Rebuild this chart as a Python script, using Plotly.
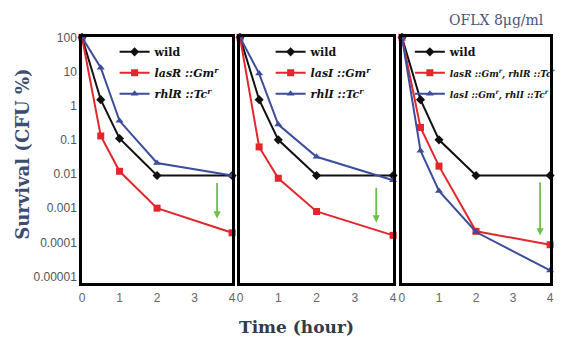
import math
import plotly.graph_objects as go

# ---------------- data ----------------
time_h = [0, 0.5, 1, 2, 4]

p1_wild = [100, 1.5, 0.11, 0.009, 0.009]
p1_lasR = [100, 0.13, 0.012, 0.001, 0.00019]
p1_rhlR = [100, 13, 0.36, 0.021, 0.009]

p2_wild = [100, 1.5, 0.1, 0.009, 0.009]
p2_lasI = [100, 0.062, 0.0075, 0.0008, 0.00016]
p2_rhlI = [100, 8.7, 0.28, 0.032, 0.0066]

p3_wild = [100, 1.5, 0.1, 0.009, 0.009]
p3_lasR_rhlR = [100, 0.23, 0.017, 0.00021, 0.000085]
p3_lasI_rhlI = [100, 0.048, 0.0032, 0.0002, 0.000015]

# green arrows: (time, start value, end value) per panel
arrow_t = [3.6, 3.56, 3.73]
arrow_from = [0.006, 0.0044, 0.0062]
arrow_to = [0.0005, 0.00038, 0.00016]

y_tickvals = [100, 10, 1, 0.1, 0.01, 0.001, 0.0001, 0.00001]
y_ticktext = ["100", "10", "1", "0.1", "0.01", "0.001", "0.0001", "0.00001"]
x_tickvals = [0, 1, 2, 3, 4]

names_p1 = ["wild", "<i>lasR ::Gm<sup>r</sup></i>", "<i>rhlR ::Tc<sup>r</sup></i>"]
names_p2 = ["wild", "<i>lasI ::Gm<sup>r</sup></i>", "<i>rhlI ::Tc<sup>r</sup></i>"]
names_p3 = ["wild",
            "<span style='font-size:9px'><i>lasR ::Gm<sup>r</sup>, rhlR ::Tc<sup>r</sup></i></span>",
            "<span style='font-size:9px'><i>lasI ::Gm<sup>r</sup>, rhlI ::Tc<sup>r</sup></i></span>"]

# ---------------- styles ----------------
BLACK = "#111111"
RED = "#e4262c"
BLUE = "#3b4d9c"
GREEN = "#6cc04a"
colors = [BLACK, RED, BLUE]
symbols = ["diamond", "square", "triangle-up"]

W, H = 562, 347
dom_x = [[80 / W, 232 / W], [240 / W, 395 / W], [404 / W, 554 / W]]
dom_y = [1 - 282 / H, 1 - 31 / H]

fig = go.Figure()

panels = [
    (names_p1, [p1_wild, p1_lasR, p1_rhlR], "legend"),
    (names_p2, [p2_wild, p2_lasI, p2_rhlI], "legend2"),
    (names_p3, [p3_wild, p3_lasR_rhlR, p3_lasI_rhlI], "legend3"),
]

for i, (names, series, leg) in enumerate(panels):
    xa = "x" if i == 0 else f"x{i+1}"
    ya = "y" if i == 0 else f"y{i+1}"
    for j, (nm, vals) in enumerate(zip(names, series)):
        fig.add_trace(go.Scatter(
            x=time_h, y=vals, name=nm, mode="lines+markers",
            line=dict(color=colors[j], width=2),
            marker=dict(color=colors[j], symbol=symbols[j], size=7),
            xaxis=xa, yaxis=ya, legend=leg, legendgroup=f"g{i}{j}",
            cliponaxis=False,
        ))
    # green arrow
    fig.add_annotation(
        x=arrow_t[i], y=math.log10(arrow_to[i]),
        ax=arrow_t[i], ay=math.log10(arrow_from[i]),
        xref=xa, yref=ya, axref=xa, ayref=ya,
        showarrow=True, arrowhead=2, arrowsize=0.8, arrowwidth=1.8,
        arrowcolor=GREEN, text="",
    )

axis_common = dict(showline=True, mirror=True, linecolor="black", linewidth=2.5,
                   showgrid=False, zeroline=False)

layout = dict(
    width=W, height=H,
    margin=dict(l=0, r=0, t=0, b=0),
    paper_bgcolor="white", plot_bgcolor="white",
    font=dict(family="Liberation Sans", size=12, color="#555555"),
)

for i in range(3):
    sx = "" if i == 0 else str(i + 1)
    layout[f"xaxis{sx}"] = dict(
        domain=dom_x[i], range=[0, 4], tickvals=x_tickvals,
        anchor=f"y{sx}", ticks="", ticklabelstandoff=2,
        tickfont=dict(size=12, color="#666666"), **axis_common)
    layout[f"yaxis{sx}"] = dict(
        domain=dom_y, type="log", range=[-5.2, 2.0],
        tickvals=y_tickvals, ticktext=y_ticktext,
        showticklabels=(i == 0), anchor=f"x{sx}", ticks="",
        tickfont=dict(size=12, color="#555555"), **axis_common)

leg_common = dict(bgcolor="rgba(0,0,0,0)", borderwidth=0, xanchor="left", yanchor="top",
                  itemwidth=30, tracegroupgap=2,
                  font=dict(family="DejaVu Serif", size=11, color="#111111", weight="bold"))
layout["legend"] = dict(x=113 / W, y=1 - 31 / H, **leg_common)
layout["legend2"] = dict(x=271 / W, y=1 - 31 / H, **leg_common)
layout["legend3"] = dict(x=412 / W, y=1 - 31 / H, **leg_common)
layout["showlegend"] = True

fig.update_layout(**layout)

fig.add_annotation(text="Survival (CFU %)", x=20 / W, y=1 - 150 / H, xref="paper", yref="paper",
                   textangle=-90, showarrow=False, xanchor="center", yanchor="middle",
                   font=dict(family="DejaVu Serif", size=18, color="#3e4c6e", weight="bold"))
fig.add_annotation(text="Time (hour)", x=297 / W, y=1 - 327 / H, xref="paper", yref="paper",
                   showarrow=False, xanchor="center", yanchor="middle",
                   font=dict(family="DejaVu Serif", size=17, color="#333a48", weight="bold"))
fig.add_annotation(text="OFLX 8μg/ml", x=500 / W, y=1 - 13 / H, xref="paper", yref="paper",
                   showarrow=False, xanchor="center", yanchor="middle",
                   font=dict(family="DejaVu Serif", size=14, color="#4a5578"))

fig.write_html("out.html")
